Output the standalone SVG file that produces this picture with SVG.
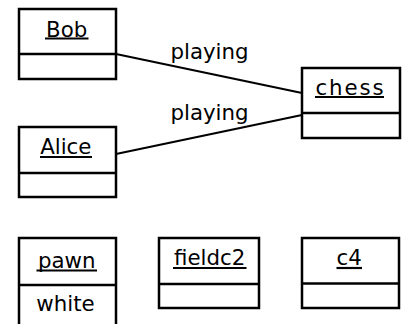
<svg xmlns="http://www.w3.org/2000/svg" width="403" height="324" viewBox="0 0 403 324">
  <style>
    .box { fill: #ffffff; stroke: #000000; stroke-width: 2.5; }
    .div { stroke: #000000; stroke-width: 2.5; }
    .ul { stroke: #000000; stroke-width: 2.2; }
    .name { font-family: "DejaVu Sans", "Liberation Sans", sans-serif; font-size: 21.33px; fill: #000000; text-anchor: middle; }
    .attr { font-family: "DejaVu Sans", "Liberation Sans", sans-serif; font-size: 21.33px; fill: #000000; text-anchor: middle; }
    .label { font-family: "DejaVu Sans", "Liberation Sans", sans-serif; font-size: 21.33px; fill: #000000; text-anchor: middle; }
    .link { stroke: #000000; stroke-width: 2.2; fill: none; }
  </style>
  <rect width="403" height="324" fill="#ffffff"/>

  <!-- associations -->
  <g id="connectors">
    <line class="link" x1="116" y1="54" x2="302" y2="93"/>
    <line class="link" x1="116" y1="154" x2="302" y2="115"/>
    <text class="label" x="209.5" y="58.5">playing</text>
    <text class="label" x="209.5" y="120">playing</text>
  </g>

  <g id="bob">
    <rect class="box" x="19" y="9" width="97" height="70"/>
    <line class="div" x1="19" y1="54" x2="116" y2="54"/>
    <text class="name" x="66.7" y="36.5">Bob</text>
    <line class="ul" x1="45" y1="38.5" x2="88.5" y2="38.5"/>
  </g>

  <g id="alice">
    <rect class="box" x="19" y="127" width="97" height="70"/>
    <line class="div" x1="19" y1="173" x2="116" y2="173"/>
    <text class="name" x="65.8" y="154">Alice</text>
    <line class="ul" x1="40" y1="157" x2="92" y2="157"/>
  </g>

  <g id="chess">
    <rect class="box" x="302" y="68" width="98" height="70"/>
    <line class="div" x1="302" y1="113" x2="400" y2="113"/>
    <text class="name" x="349.5" y="94.5" textLength="68" lengthAdjust="spacing">chess</text>
    <line class="ul" x1="315" y1="97" x2="384" y2="97"/>
  </g>

  <g id="pawn">
    <rect class="box" x="19" y="238" width="97" height="100"/>
    <line class="div" x1="19" y1="285" x2="116" y2="285"/>
    <text class="name" x="66.7" y="267.5">pawn</text>
    <line class="ul" x1="36.5" y1="270.5" x2="97" y2="270.5"/>
    <text class="attr" x="65.5" y="310.5">white</text>
  </g>

  <g id="fieldc2">
    <rect class="box" x="159" y="238" width="100" height="70"/>
    <line class="div" x1="159" y1="284" x2="259" y2="284"/>
    <text class="name" x="209.7" y="265">fieldc2</text>
    <line class="ul" x1="173" y1="268" x2="246.5" y2="268"/>
  </g>

  <g id="c4">
    <rect class="box" x="302" y="238" width="97" height="70"/>
    <line class="div" x1="302" y1="283.5" x2="399" y2="283.5"/>
    <text class="name" x="349.2" y="265">c4</text>
    <line class="ul" x1="336.5" y1="268" x2="362" y2="268"/>
  </g>
</svg>
